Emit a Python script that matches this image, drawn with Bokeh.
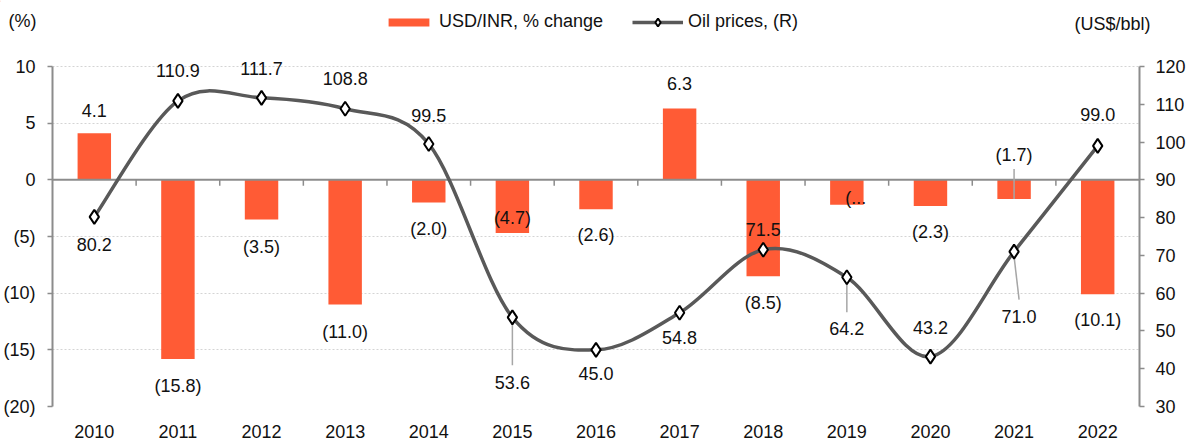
from bokeh.plotting import figure
from bokeh.models import (Range1d, LinearAxis, FixedTicker, Legend, LegendItem,
                          Label, LabelSet, ColumnDataSource)
from bokeh.core.properties import value
from bokeh.embed import file_html
from bokeh.resources import INLINE

# ---------------- data ----------------
years = ["2010", "2011", "2012", "2013", "2014", "2015", "2016",
         "2017", "2018", "2019", "2020", "2021", "2022"]
usd_inr_pct = [4.1, -15.8, -3.5, -11.0, -2.0, -4.7, -2.6, 6.3, -8.5, -2.2, -2.3, -1.7, -10.1]
usd_inr_labels = ["4.1", "(15.8)", "(3.5)", "(11.0)", "(2.0)", "(4.7)", "(2.6)",
                  "6.3", "(8.5)", "(...", "(2.3)", "(1.7)", "(10.1)"]
oil_prices = [80.2, 110.9, 111.7, 108.8, 99.5, 53.6, 45.0, 54.8, 71.5, 64.2, 43.2, 71.0, 99.0]
oil_labels = ["80.2", "110.9", "111.7", "108.8", "99.5", "53.6", "45.0",
              "54.8", "71.5", "64.2", "43.2", "71.0", "99.0"]
left_ticks = [-20, -15, -10, -5, 0, 5, 10]
left_tick_labels = ["(20)", "(15)", "(10)", "(5)", "0", "5", "10"]
right_ticks = [30, 40, 50, 60, 70, 80, 90, 100, 110, 120]

# ---------------- label placement (pixels, positive = up) ----------------
bar_label_dy = [23, -27, -27, -27, -26, 15, -26, 25, -27, 7, -26, 44, -26]
bar_label_dx = [0, 0, 0, 0, 0, 0, 0, 0, 0, 9, 0, 0, 0]
oil_label_dy = [-28, 30, 29, 30, 28, -65, -24, -25, 20, -51, 29, -65, 31]
oil_label_dx = [0, 0, 0, 0, 0, 0, 0, 0, 0, 0, 0, 5, 0]

FONT = "Liberation Sans"
FS = "18px"
TXT = "#111111"
AX = "#8c8c8c"
BAR = "#FF5B35"
LINE = "#595959"
LEAD = "#a6a6a6"

n = len(years)
idx = list(range(n))

# ---------------- main chart ----------------
W = 1188
H_MAIN = 395
B_TOP, B_BOTTOM, B_LEFT, B_RIGHT = 0, 38, 51, 54
PCT_LO, PCT_HI, PCT_TOP = -20, 10, 11.5
OIL_LO, OIL_HI = 30, 120
OIL_TOP = OIL_LO + (PCT_TOP - PCT_LO) * 3

main = figure(width=W, height=H_MAIN, output_backend="svg", toolbar_location=None,
              x_range=Range1d(-0.5, n - 0.5), y_range=Range1d(PCT_LO, PCT_TOP),
              min_border_left=B_LEFT, min_border_right=46, min_border_top=B_TOP,
              min_border_bottom=B_BOTTOM)
main.extra_y_ranges = {"oil": Range1d(OIL_LO, OIL_TOP)}
main.outline_line_color = None

frame_h = H_MAIN - B_TOP - B_BOTTOM
px_pct = frame_h / (PCT_TOP - PCT_LO)
px_oil = frame_h / (OIL_TOP - OIL_LO)
px_x = (W - B_LEFT - B_RIGHT) / n

main.xaxis.ticker = FixedTicker(ticks=idx)
main.xaxis.major_label_overrides = {i: y for i, y in zip(idx, years)}
main.xaxis.axis_line_color = None
main.xaxis.major_tick_line_color = None
main.xaxis.minor_tick_line_color = None
main.xaxis.major_label_standoff = 12
main.xaxis.major_label_text_font = FONT
main.xaxis.major_label_text_font_size = FS
main.xaxis.major_label_text_color = TXT

main.yaxis.ticker = FixedTicker(ticks=left_ticks)
main.yaxis.bounds = (PCT_LO, PCT_HI)
main.yaxis.major_label_overrides = {t: s for t, s in zip(left_ticks, left_tick_labels)}
main.yaxis.axis_line_color = AX
main.yaxis.axis_line_width = 2
main.yaxis.major_tick_line_color = AX
main.yaxis.major_tick_line_width = 1.5
main.yaxis.major_tick_in = 0
main.yaxis.major_tick_out = 5
main.yaxis.minor_tick_line_color = None
main.yaxis.major_label_standoff = 12
main.yaxis.major_label_text_font = FONT
main.yaxis.major_label_text_font_size = FS
main.yaxis.major_label_text_color = TXT

ry = LinearAxis(y_range_name="oil", ticker=FixedTicker(ticks=right_ticks),
                bounds=(OIL_LO, OIL_HI))
ry.axis_line_color = AX
ry.axis_line_width = 2
ry.major_tick_line_color = AX
ry.major_tick_line_width = 1.5
ry.major_tick_in = 0
ry.major_tick_out = 5
ry.minor_tick_line_color = None
ry.major_label_standoff = 11
ry.major_label_text_font = FONT
ry.major_label_text_font_size = FS
ry.major_label_text_color = TXT
main.add_layout(ry, "right")

main.xgrid.grid_line_color = None
main.ygrid.ticker = FixedTicker(ticks=[t for t in left_ticks if t != 0])
main.ygrid.grid_line_color = "#d4d4d4"
main.ygrid.grid_line_dash = "2 2"
main.ygrid.grid_line_width = 1

# bars
main.vbar(x=idx, top=usd_inr_pct, bottom=0, width=0.4, fill_color=BAR, line_color=None)

# zero line with category-boundary ticks
main.segment(x0=[-0.5], y0=[0], x1=[n - 0.5], y1=[0], line_color=AX, line_width=2)
tick_x = [i + 0.5 for i in idx[:-1]]
main.segment(x0=tick_x, y0=[0] * len(tick_x), x1=tick_x, y1=[-6 / px_pct] * len(tick_x),
             line_color=AX, line_width=1.5)

# smoothed oil line (Excel-like cubic bezier through the points)
x0s, y0s, x1s, y1s, cx0s, cy0s, cx1s, cy1s = [], [], [], [], [], [], [], []
for i in range(n - 1):
    a = i - 1 if i > 0 else i
    b = i + 2 if i + 2 < n else i + 1
    x0s.append(idx[i]); y0s.append(oil_prices[i])
    x1s.append(idx[i + 1]); y1s.append(oil_prices[i + 1])
    cx0s.append(idx[i] + (idx[i + 1] - idx[a]) / 6.0)
    cy0s.append(oil_prices[i] + (oil_prices[i + 1] - oil_prices[a]) / 6.0)
    cx1s.append(idx[i + 1] - (idx[b] - idx[i]) / 6.0)
    cy1s.append(oil_prices[i + 1] - (oil_prices[b] - oil_prices[i]) / 6.0)
main.bezier(x0=x0s, y0=y0s, x1=x1s, y1=y1s, cx0=cx0s, cy0=cy0s, cx1=cx1s, cy1=cy1s,
            line_color=LINE, line_width=3.5, y_range_name="oil")

# leader lines
lead_oil = [(5, 5, 48), (9, 5, 35), (11, 5, 48)]  # (index, from px, to px below marker)
lx0, ly0, lx1, ly1 = [], [], [], []
for i, a, b in lead_oil:
    lx0.append(idx[i]); ly0.append(oil_prices[i] - a / px_oil)
    lx1.append(idx[i] + oil_label_dx[i] / px_x); ly1.append(oil_prices[i] - b / px_oil)
main.segment(x0=lx0, y0=ly0, x1=lx1, y1=ly1, line_color=LEAD, line_width=1.5,
             y_range_name="oil")
i21 = 11
main.segment(x0=[idx[i21]], y0=[usd_inr_pct[i21]], x1=[idx[i21]],
             y1=[usd_inr_pct[i21] + 30 / px_pct], line_color=LEAD, line_width=1.5)

main.scatter(x=idx, y=oil_prices, marker="diamond", size=14, fill_color="white",
             line_color="black", line_width=2, y_range_name="oil")

# data labels
bsrc = ColumnDataSource(dict(x=idx, y=usd_inr_pct, t=usd_inr_labels,
                             dx=bar_label_dx, dy=bar_label_dy))
main.add_layout(LabelSet(x="x", y="y", text="t", source=bsrc, x_offset="dx", y_offset="dy",
                         text_align="center", text_baseline="middle",
                         text_font=value(FONT), text_font_size=value(FS), text_color=TXT))
osrc = ColumnDataSource(dict(x=idx, y=oil_prices, t=oil_labels,
                             dx=oil_label_dx, dy=oil_label_dy))
main.add_layout(LabelSet(x="x", y="y", text="t", source=osrc, x_offset="dx", y_offset="dy",
                         y_range_name="oil", text_align="center", text_baseline="middle",
                         text_font=value(FONT), text_font_size=value(FS), text_color=TXT))

# ---------------- header: axis titles + legend (separate root, canvas px coords) ----------------
H_HEAD = 49
WH = 1176
head = figure(width=WH, height=H_HEAD, output_backend="svg", toolbar_location=None,
              x_range=Range1d(0, WH), y_range=Range1d(H_HEAD, 0),
              x_axis_type=None, y_axis_type=None, min_border=0)
head.outline_line_color = None
head.xgrid.visible = False
head.ygrid.visible = False

head.add_layout(Label(x=8, y=20, text="(%)", text_align="left", text_baseline="middle",
                      text_font=FONT, text_font_size=FS, text_color=TXT))
head.add_layout(Label(x=1074, y=23, text="(US$/bbl)", text_align="left",
                      text_baseline="middle", text_font=FONT, text_font_size=FS,
                      text_color=TXT))

# legend swatches (placeholders kept outside the visible header range)
lg_bar = head.vbar(x=[-100], top=[1], width=1, fill_color=BAR, line_color=None)
lg_line = head.line(x=[-100, -90], y=[1, 1], line_color=LINE, line_width=3.5)
lg_mark = head.scatter(x=[-100], y=[1], marker="diamond", fill_color="white",
                       line_color="black", line_width=2)

common = dict(orientation="horizontal", glyph_width=51, label_standoff=5, padding=0,
              margin=0, border_line_color=None, background_fill_alpha=0,
              label_text_font=FONT, label_text_font_size=FS, label_text_color=TXT,
              label_height=20)
leg1 = Legend(items=[LegendItem(label="USD/INR, % change", renderers=[lg_bar])],
              location=(383, 17), glyph_height=10, **common)
leg2 = Legend(items=[LegendItem(label="Oil prices, (R)", renderers=[lg_line, lg_mark])],
              location=(632, 17), glyph_height=20, **common)
head.add_layout(leg1, "center")
head.add_layout(leg2, "center")

open("out.html", "w").write(file_html([head, main], INLINE))
